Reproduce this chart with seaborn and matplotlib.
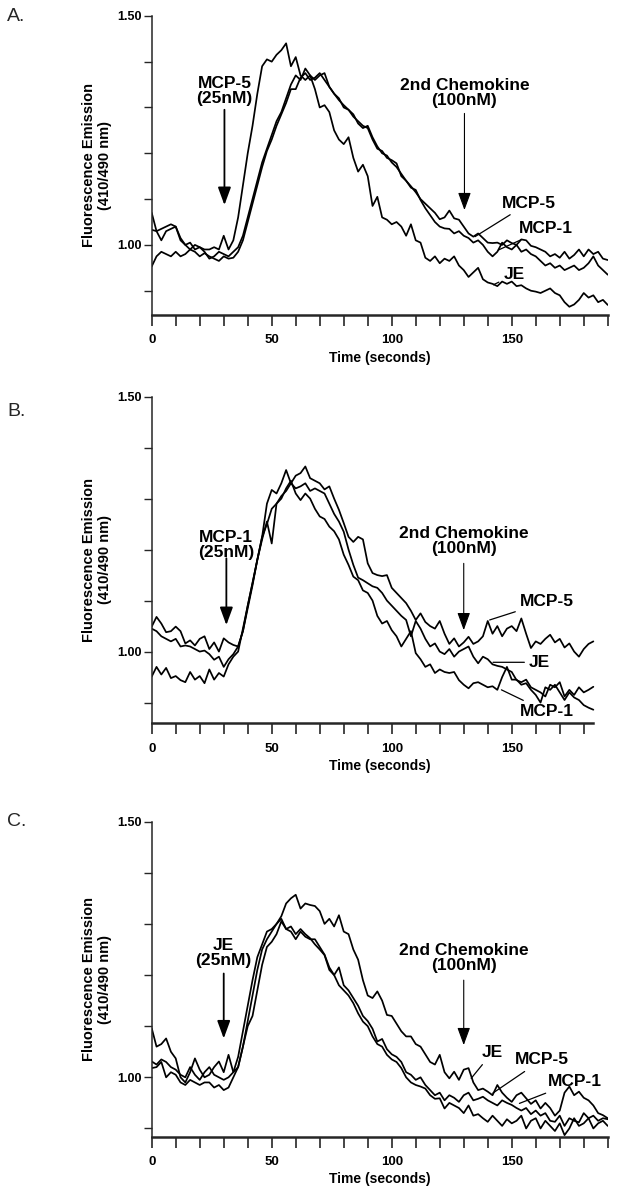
import numpy as np
import pandas as pd
import seaborn as sns
import matplotlib.pyplot as plt

sns.set_style("ticks")
plt.rcParams["font.family"] = ["Liberation Sans", "DejaVu Sans"]

# sampling grid (seconds)
time_ac = np.arange(0, 191, 2)
time_b = np.arange(0, 185, 2)

# ---- panel A: MCP-5 first, then 2nd chemokine ----
a_mcp5 = [1.033, 1.03, 1.01, 1.03, 1.035, 1.04, 1.015, 1.0, 1.005, 0.99,
          0.995, 0.985, 0.97, 0.975, 0.985, 0.98, 0.975, 0.985, 0.995, 1.02,
          1.06, 1.10, 1.14, 1.18, 1.21, 1.24, 1.27, 1.29, 1.32, 1.35,
          1.37, 1.36, 1.385, 1.37, 1.36, 1.37, 1.375, 1.345, 1.33, 1.316,
          1.305, 1.295, 1.28, 1.27, 1.26, 1.255, 1.23, 1.21, 1.205, 1.19,
          1.185, 1.178, 1.15, 1.14, 1.128, 1.115, 1.10, 1.09, 1.08, 1.07,
          1.056, 1.06, 1.075, 1.058, 1.055, 1.04, 1.025, 1.018, 1.025, 1.015,
          1.005, 1.004, 1.005, 1.0, 1.01, 1.004, 1.0, 1.012, 1.01, 0.998,
          0.995, 0.99, 0.985, 0.975, 0.98, 0.972, 0.985, 0.97, 0.978, 0.99,
          0.975, 0.99, 0.98, 0.985, 0.97, 0.967]
a_mcp1 = [0.953, 0.975, 0.985, 0.98, 0.975, 0.985, 0.975, 0.98, 0.99, 0.985,
          0.975, 0.982, 0.975, 0.97, 0.965, 0.975, 0.97, 0.972, 0.985, 1.01,
          1.05, 1.09, 1.13, 1.17, 1.205, 1.23, 1.26, 1.285, 1.31, 1.34,
          1.34, 1.365, 1.375, 1.36, 1.365, 1.375, 1.36, 1.345, 1.33, 1.32,
          1.30, 1.295, 1.285, 1.265, 1.255, 1.26, 1.235, 1.215, 1.20, 1.195,
          1.18, 1.17, 1.155, 1.14, 1.125, 1.12, 1.098, 1.08, 1.065, 1.05,
          1.04, 1.036, 1.035, 1.025, 1.03, 1.02, 1.015, 1.005, 1.01, 1.0,
          0.985, 0.975, 0.985, 1.005, 0.995, 0.99, 1.0, 0.985, 0.99, 0.98,
          0.975, 0.965, 0.955, 0.96, 0.95, 0.955, 0.945, 0.95, 0.955, 0.945,
          0.95, 0.96, 0.975, 0.955, 0.945, 0.935]
a_je = [1.07, 1.03, 1.035, 1.04, 1.045, 1.04, 1.01, 1.0, 0.99, 1.0,
        0.995, 0.99, 0.99, 0.995, 0.99, 1.02, 0.99, 1.01, 1.06, 1.13,
        1.2, 1.26, 1.33, 1.39, 1.405, 1.40, 1.415, 1.425, 1.44, 1.39,
        1.41, 1.37, 1.36, 1.37, 1.34, 1.30, 1.305, 1.29, 1.25, 1.23,
        1.22, 1.235, 1.19, 1.16, 1.175, 1.15, 1.085, 1.105, 1.06, 1.055,
        1.045, 1.05, 1.04, 1.02, 1.045, 1.01, 1.005, 0.972, 0.965, 0.975,
        0.96, 0.97, 0.965, 0.975, 0.955, 0.945, 0.93, 0.94, 0.95, 0.925,
        0.918, 0.915, 0.91, 0.92, 0.915, 0.92, 0.91, 0.912, 0.905, 0.90,
        0.898, 0.895, 0.90, 0.905, 0.895, 0.89, 0.875, 0.865, 0.87, 0.88,
        0.895, 0.885, 0.89, 0.875, 0.88, 0.869]

# ---- panel B: MCP-1 first ----
b_mcp5 = [1.049, 1.068, 1.055, 1.038, 1.04, 1.049, 1.04, 1.016, 1.022, 1.012,
          1.025, 1.03, 1.005, 1.018, 1.0, 1.026, 1.018, 1.013, 1.01, 1.04,
          1.09, 1.135, 1.18, 1.225, 1.29, 1.317, 1.31, 1.33, 1.356, 1.33,
          1.345, 1.35, 1.363, 1.34, 1.335, 1.33, 1.318, 1.324, 1.30, 1.278,
          1.252, 1.225, 1.215, 1.225, 1.22, 1.173, 1.154, 1.15, 1.148, 1.15,
          1.125, 1.115, 1.105, 1.095, 1.08, 1.062, 1.075, 1.058, 1.05, 1.045,
          1.06, 1.035, 1.015, 1.026, 1.01, 1.018, 1.029, 1.015, 1.02, 1.03,
          1.06, 1.035, 1.05, 1.03, 1.045, 1.05, 1.04, 1.065, 1.035, 1.007,
          1.02, 1.015, 1.025, 1.033, 1.018, 1.025, 1.008, 1.016, 1.0, 0.99,
          1.005, 1.015, 1.02]
b_je = [1.045, 1.04, 1.03, 1.025, 1.02, 1.025, 1.01, 1.012, 1.01, 1.005,
        1.0, 1.002, 0.995, 0.984, 0.99, 0.97, 0.985, 0.995, 1.01, 1.04,
        1.085, 1.13, 1.18, 1.22, 1.255, 1.212, 1.29, 1.305, 1.315, 1.33,
        1.32, 1.324, 1.33, 1.315, 1.32, 1.315, 1.31, 1.29, 1.27, 1.255,
        1.235, 1.2, 1.17, 1.145, 1.14, 1.134, 1.128, 1.125, 1.115, 1.1,
        1.09, 1.08, 1.07, 1.062, 1.03, 1.06, 1.045, 1.025, 1.01, 1.016,
        1.0, 0.995, 1.005, 0.99, 1.0, 1.005, 1.01, 0.99, 0.977, 0.99,
        0.985, 0.975, 0.972, 0.97, 0.965, 0.96, 0.944, 0.94, 0.945, 0.93,
        0.925, 0.92, 0.912, 0.935, 0.93, 0.94, 0.912, 0.925, 0.915, 0.93,
        0.92, 0.925, 0.931]
b_mcp1 = [0.951, 0.97, 0.955, 0.968, 0.948, 0.952, 0.944, 0.94, 0.96, 0.945,
          0.952, 0.938, 0.965, 0.945, 0.958, 0.951, 0.975, 0.99, 1.0, 1.045,
          1.09, 1.134, 1.18, 1.225, 1.25, 1.28, 1.29, 1.3, 1.32, 1.335,
          1.31, 1.297, 1.31, 1.3, 1.28, 1.265, 1.26, 1.245, 1.236, 1.22,
          1.19, 1.17, 1.147, 1.14, 1.12, 1.115, 1.1, 1.07, 1.055, 1.06,
          1.042, 1.03, 1.01, 1.025, 1.04, 0.997, 0.985, 0.97, 0.975, 0.958,
          0.965, 0.96, 0.958, 0.96, 0.944, 0.935, 0.928, 0.938, 0.94, 0.935,
          0.93, 0.932, 0.925, 0.95, 0.97, 0.945, 0.945, 0.935, 0.938, 0.925,
          0.915, 0.9, 0.93, 0.925, 0.935, 0.92, 0.905, 0.92, 0.91, 0.905,
          0.895, 0.89, 0.886]

# ---- panel C: JE first ----
c_je = [1.096, 1.06, 1.065, 1.076, 1.05, 1.037, 1.0, 0.99, 1.01, 1.037,
        1.015, 1.0, 1.005, 1.02, 1.031, 1.01, 1.044, 1.01, 1.02, 1.06,
        1.11, 1.16, 1.21, 1.25, 1.27, 1.285, 1.30, 1.315, 1.34, 1.35,
        1.357, 1.33, 1.34, 1.337, 1.335, 1.325, 1.30, 1.31, 1.295, 1.317,
        1.285, 1.28, 1.25, 1.23, 1.19, 1.16, 1.155, 1.168, 1.15, 1.122,
        1.12, 1.105, 1.09, 1.08, 1.08, 1.065, 1.06, 1.045, 1.03, 1.025,
        1.044, 1.01, 0.998, 1.011, 0.995, 1.015, 1.018, 0.99, 0.975, 0.978,
        0.972, 0.965, 0.985, 0.97, 0.96, 0.952, 0.965, 0.97, 0.959, 0.948,
        0.955, 0.939, 0.95, 0.94, 0.925, 0.935, 0.97, 0.982, 0.965, 0.972,
        0.96, 0.955, 0.945, 0.93, 0.926, 0.92]
c_mcp5 = [1.031, 1.025, 1.035, 1.03, 1.02, 1.015, 1.005, 1.0, 1.02, 1.005,
          0.995, 1.01, 1.02, 1.005, 1.0, 0.995, 1.0, 1.01, 1.04, 1.09,
          1.14, 1.19, 1.235, 1.26, 1.285, 1.29, 1.30, 1.31, 1.29, 1.285,
          1.27, 1.285, 1.275, 1.27, 1.27, 1.255, 1.24, 1.215, 1.2, 1.215,
          1.18, 1.17, 1.155, 1.14, 1.12, 1.11, 1.095, 1.07, 1.075, 1.055,
          1.045, 1.04, 1.03, 1.01, 1.005, 0.995, 1.0, 0.985, 0.975, 0.965,
          0.97, 0.955, 0.965, 0.96, 0.952, 0.965, 0.97, 0.955, 0.958, 0.962,
          0.955, 0.95, 0.945, 0.955, 0.95, 0.946, 0.94, 0.935, 0.94, 0.928,
          0.935, 0.925, 0.93, 0.915, 0.913, 0.925, 0.905, 0.92, 0.915, 0.912,
          0.93, 0.92, 0.925, 0.915, 0.92, 0.918]
c_mcp1 = [1.018, 1.02, 1.03, 1.0, 1.01, 1.005, 0.99, 0.985, 0.995, 0.99,
          0.985, 0.99, 0.99, 0.98, 0.985, 0.975, 0.98, 1.0, 1.02, 1.06,
          1.10, 1.12, 1.17, 1.22, 1.255, 1.265, 1.28, 1.305, 1.29, 1.295,
          1.28, 1.29, 1.28, 1.272, 1.26, 1.25, 1.239, 1.21, 1.2, 1.18,
          1.17, 1.16, 1.145, 1.125, 1.109, 1.1, 1.08, 1.065, 1.06, 1.044,
          1.035, 1.03, 1.018, 1.0, 0.99, 0.985, 0.982, 0.978, 0.965, 0.958,
          0.959, 0.939, 0.95, 0.945, 0.94, 0.93, 0.945, 0.925, 0.928, 0.92,
          0.913, 0.925, 0.915, 0.905, 0.918, 0.91, 0.915, 0.925, 0.9, 0.915,
          0.92, 0.9, 0.915, 0.905, 0.895, 0.91, 0.887, 0.9, 0.92, 0.905,
          0.91, 0.92, 0.9, 0.91, 0.915, 0.905]

panels = [
    dict(letter="A.", letter_y=0.986, rect=[0.2455, 0.7375, 0.7379, 0.2493], ymin=0.847, xmax=190,
         time=time_ac, traces={"MCP-5": a_mcp5, "MCP-1": a_mcp1, "JE": a_je},
         first=("MCP-5\n(25nM)", 30.3, 1.336, 1.295, 1.087),
         second=(130.3, 1.331, 1.287, 1.076),
         labels=[("MCP-5", 145.8, 1.091, 134.7, 1.018),
                 ("MCP-1", 153.1, 1.036, 144.5, 0.989),
                 ("JE", 146.5, 0.935, 142.4, 0.913)]),
    dict(letter="B.", letter_y=0.657, rect=[0.2455, 0.3973, 0.7379, 0.2722], ymin=0.8595, xmax=184,
         time=time_b, traces={"MCP-5": b_mcp5, "JE": b_je, "MCP-1": b_mcp1},
         first=("MCP-1\n(25nM)", 31.1, 1.209, 1.183, 1.052),
         second=(130.0, 1.216, 1.173, 1.042),
         labels=[("MCP-5", 153.4, 1.098, 140.8, 1.062),
                 ("JE", 157.2, 0.979, 142.2, 0.979),
                 ("MCP-1", 153.4, 0.882, 145.7, 0.925)]),
    dict(letter="C.", letter_y=0.315, rect=[0.2455, 0.0528, 0.7379, 0.2625], ymin=0.884, xmax=190,
         time=time_ac, traces={"JE": c_je, "MCP-5": c_mcp5, "MCP-1": c_mcp1},
         first=("JE\n(25nM)", 30.0, 1.244, 1.203, 1.076),
         second=(130.0, 1.233, 1.19, 1.063),
         labels=[("JE", 137.4, 1.048, 133.1, 0.998),
                 ("MCP-5", 151.2, 1.034, 142.1, 0.969),
                 ("MCP-1", 165.0, 0.991, 153.2, 0.949)]),
]

fig = plt.figure(figsize=(6.18, 12), dpi=100)
bold = dict(fontweight="bold", color="black")

for p in panels:
    ax = fig.add_axes(p["rect"])
    df = pd.concat([pd.DataFrame({"time": p["time"], "ratio": v, "trace": k})
                    for k, v in p["traces"].items()])
    sns.lineplot(data=df, x="time", y="ratio", units="trace", estimator=None,
                 color="black", linewidth=1.25, ax=ax)

    ax.set_xlim(0, 190)
    ax.set_ylim(p["ymin"], 1.50)
    sns.despine(ax=ax)
    ax.spines["bottom"].set_bounds(0, p["xmax"])
    ax.spines["bottom"].set_linewidth(1.8)
    ax.spines["left"].set_linewidth(1.1)

    xt = list(range(0, int(p["xmax"]) + 1, 10))
    ax.set_xticks(xt)
    ax.set_xticklabels([str(v) if v % 50 == 0 else "" for v in xt], fontsize=9.5, **bold)
    yt = [0.9, 1.0, 1.1, 1.2, 1.3, 1.4, 1.5]
    ax.set_yticks(yt)
    ax.set_yticklabels(["", "1.00", "", "", "", "", "1.50"], fontsize=9, **bold)
    ax.tick_params(axis="x", direction="out", length=8, width=1.2, pad=6)
    ax.tick_params(axis="y", direction="out", length=6, width=1.0, pad=1)

    ax.set_xlabel("Time (seconds)", fontsize=10, labelpad=3, **bold)
    ax.set_ylabel("")
    ax.text(-0.12, 0.5, "Fluorescence Emission\n(410/490 nm)", transform=ax.transAxes,
            rotation=90, ha="center", va="center", fontsize=10.5, linespacing=1.1, **bold)

    # first chemokine
    txt, fx, fy, f0, f1 = p["first"]
    ax.text(fx, fy, txt, ha="center", va="center", fontsize=12.5, linespacing=1.0, **bold)
    ax.annotate("", xy=(fx, f1), xytext=(fx, f0),
                arrowprops=dict(arrowstyle="-|>,head_length=0.6,head_width=0.22",
                                mutation_scale=18, lw=1.3, color="black",
                                shrinkA=0, shrinkB=0))
    # second chemokine
    sx, sy, s0, s1 = p["second"]
    ax.text(sx, sy, "2nd Chemokine\n(100nM)", ha="center", va="center",
            fontsize=12.5, linespacing=1.0, **bold)
    ax.annotate("", xy=(sx, s1), xytext=(sx, s0),
                arrowprops=dict(arrowstyle="-|>,head_length=0.6,head_width=0.22",
                                mutation_scale=18, lw=0.8, color="black",
                                shrinkA=0, shrinkB=0))
    # trace labels with leader lines
    for name, tx, ty, px, py in p["labels"]:
        ax.annotate(name, xy=(px, py), xytext=(tx, ty), ha="left", va="center",
                    fontsize=12.5, **bold,
                    arrowprops=dict(arrowstyle="-", lw=0.9, color="black",
                                    shrinkA=1, shrinkB=0))

    fig.text(0.012, p["letter_y"], p["letter"], fontsize=14, va="center", ha="left")

fig.savefig("out.png", dpi=100, facecolor="white")
